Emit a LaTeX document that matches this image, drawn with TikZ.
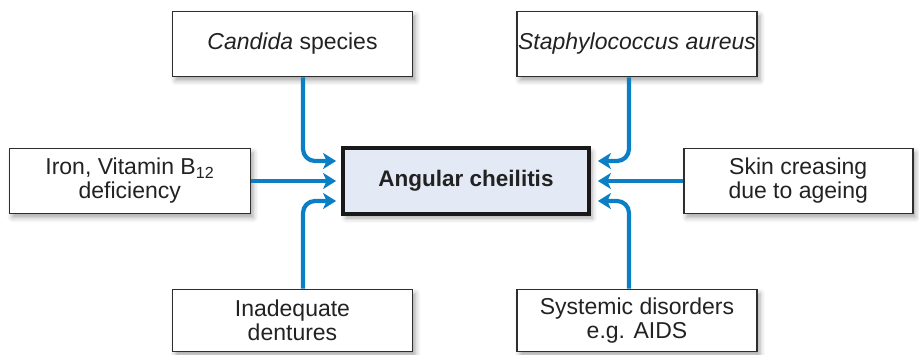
\documentclass[tikz,border=0pt]{standalone}
\usepackage{fontspec}
\setmainfont{Liberation Sans}
\usetikzlibrary{arrows.meta,positioning,shadows.blur}
\definecolor{ink}{HTML}{222222}
\definecolor{frame}{HTML}{2E2E2E}
\definecolor{arrowblue}{HTML}{0A7FC5}
\definecolor{corefill}{HTML}{E3EAF5}
\tikzset{
  cause/.style={draw=frame,fill=white,line width=1.6pt,align=center,inner sep=0pt,font=\fontsize{23}{24}\selectfont,text=ink,blur shadow={shadow xshift=3pt,shadow yshift=-4pt,shadow blur radius=5pt,shadow opacity=35}},
  core/.style={draw=black!90,fill=corefill,line width=3.8pt,align=center,inner sep=0pt,font=\fontsize{22.5}{24}\selectfont\bfseries,text=ink,blur shadow={shadow xshift=3pt,shadow yshift=-4pt,shadow blur radius=5pt,shadow opacity=35}},
  feed/.style={-{Stealth[length=13pt,width=16pt,inset=3.5pt]},line width=4.2pt,draw=arrowblue,rounded corners=12pt}
}
\begin{document}
\begin{tikzpicture}[x=1pt,y=-1pt]
    \useasboundingbox (0,0) rectangle (919,355);
    \node[core,minimum width=246pt,minimum height=66pt] (core) at (466,181) {Angular cheilitis};
    \node[cause,minimum width=240pt,minimum height=65pt] (candida) at (292.5,44) {\textit{Candida} species};
    \node[cause,minimum width=240pt,minimum height=65pt] (staph) at (637,44) {\textit{Staphylococcus aureus}};
    \node[cause,minimum width=241pt,minimum height=65pt,left=90pt of core] (iron) {Iron, Vitamin B\textsubscript{12}\\deficiency};
    \node[cause,minimum width=229pt,minimum height=65pt,right=92pt of core] (skin) {Skin creasing\\due to ageing};
    \node[cause,minimum width=240pt,minimum height=62pt] (dentures) at (292.5,320.5) {Inadequate\\dentures};
    \node[cause,minimum width=240pt,minimum height=62pt] (systemic) at (637,320.5) {Systemic disorders\\e.g. AIDS};
    \coordinate (lx) at (303,0);
    \coordinate (rx) at (629,0);
    % left side
    \draw[feed] (candida.south -| lx) |- ([xshift=-5pt,yshift=20pt]core.west);
    \draw[feed] (iron.east) -- ([xshift=-5pt]core.west);
    \draw[feed] (dentures.north -| lx) |- ([xshift=-5pt,yshift=-20pt]core.west);
    % right side
    \draw[feed] (staph.south -| rx) |- ([xshift=7pt,yshift=20pt]core.east);
    \draw[feed] (skin.west) -- ([xshift=7pt]core.east);
    \draw[feed] (systemic.north -| rx) |- ([xshift=7pt,yshift=-20pt]core.east);
  \end{tikzpicture}
\end{document}
